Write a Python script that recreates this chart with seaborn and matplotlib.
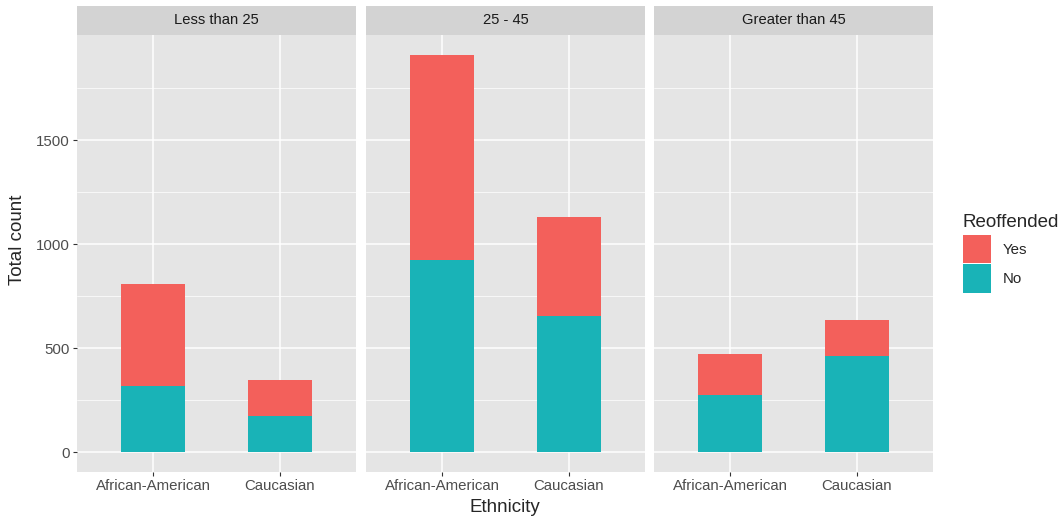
import pandas as pd
import matplotlib.pyplot as plt
import seaborn as sns
from matplotlib.patches import Patch

# values
age_groups = ["Less than 25", "25 - 45", "Greater than 45"]
ethnicities = ["African-American", "Caucasian"]
no_counts = [[317, 175], [923, 654], [275, 461]]
yes_counts = [[493, 173], [988, 478], [199, 174]]
y_ticks = [0, 500, 1000, 1500]

RED = "#F3605B"
TEAL = "#19B3B7"

rows = []
for g, nos, yess in zip(age_groups, no_counts, yes_counts):
    for e, n, y in zip(ethnicities, nos, yess):
        rows.append({"age": g, "ethnicity": e, "No": n, "Yes": y, "total": n + y})
df = pd.DataFrame(rows)

sns.set_theme(style="darkgrid")
plt.rcParams["font.family"] = ["Liberation Sans", "DejaVu Sans"]

W, H = 1061, 519
fig = plt.figure(figsize=(W / 100, H / 100), dpi=100)

panel_left = [77, 366, 654]
panel_w = 279
panel_top, panel_bot = 35, 472
strip_top = 6
ymax = df["total"].max()

for i, g in enumerate(age_groups):
    sub = df[df["age"] == g]
    ax = fig.add_axes([panel_left[i] / W, 1 - panel_bot / H,
                       panel_w / W, (panel_bot - panel_top) / H])
    ax.set_facecolor("#E5E5E5")
    sns.barplot(data=sub, x="ethnicity", y="total", order=ethnicities,
                color=RED, width=0.5, saturation=1, ax=ax, zorder=3,
                edgecolor="none", linewidth=0)
    sns.barplot(data=sub, x="ethnicity", y="No", order=ethnicities,
                color=TEAL, width=0.5, saturation=1, ax=ax, zorder=3,
                edgecolor="none", linewidth=0)
    ax.set_xlim(-0.6, 1.6)
    ax.set_ylim(-0.05 * ymax, 1.05 * ymax)
    ax.set_yticks(y_ticks)
    ax.set_yticks([250, 750, 1250, 1750], minor=True)
    ax.grid(which="major", color="white", linewidth=1.1, zorder=0)
    ax.grid(which="minor", axis="y", color="white", linewidth=0.5, zorder=0)
    for s in ax.spines.values():
        s.set_visible(False)
    ax.set_xlabel("")
    ax.set_ylabel("")
    ax.tick_params(axis="both", which="major", bottom=True, left=True,
                   length=3, width=0.8, color="#333333", labelsize=10.8,
                   labelcolor="#4D4D4D", pad=2)
    ax.tick_params(axis="both", which="minor", length=0)
    if i > 0:
        ax.tick_params(axis="y", which="major", left=False, labelleft=False)

    sax = fig.add_axes([panel_left[i] / W, 1 - panel_top / H,
                        panel_w / W, (panel_top - strip_top) / H])
    sax.set_facecolor("#D3D3D3")
    sax.set_xticks([])
    sax.set_yticks([])
    for s in sax.spines.values():
        s.set_visible(False)
    sax.text(0.5, 0.5, g, ha="center", va="center", fontsize=10.6,
             color="#1A1A1A", transform=sax.transAxes)

fig.text(505 / W, 1 - 507 / H, "Ethnicity", ha="center", va="center", fontsize=13.5)
fig.text(18 / W, 1 - 240 / H, "Total count", ha="center", va="center",
         rotation=90, fontsize=13.5)

handles = [Patch(facecolor=RED, edgecolor="none", label="Yes"),
           Patch(facecolor=TEAL, edgecolor="none", label="No")]
leg = fig.legend(handles=handles, title="Reoffended", loc="upper left",
                 bbox_to_anchor=(957 / W, 1 - 211 / H), frameon=False,
                 fontsize=10.8, title_fontsize=13.5, handlelength=1.85,
                 handleheight=2.55, labelspacing=0.05, handletextpad=0.8,
                 borderaxespad=0)
leg._legend_box.align = "left"
leg.get_title().set_position((0, 3))

fig.savefig("out.png", dpi=100)
